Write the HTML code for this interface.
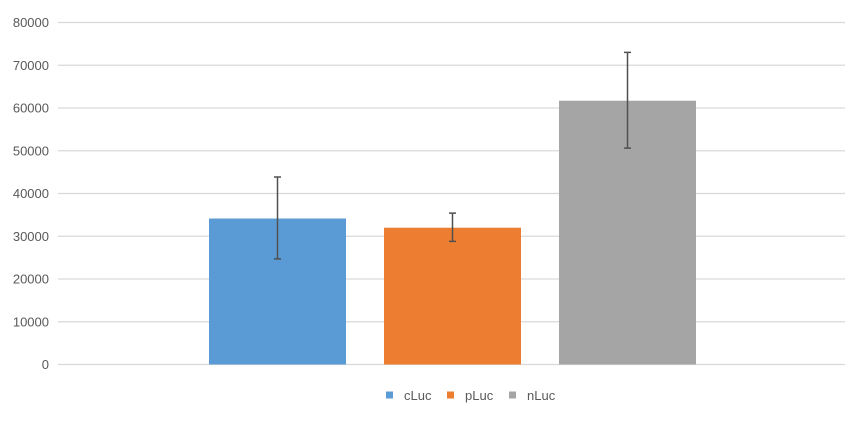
<!DOCTYPE html>
<html><head><meta charset="utf-8"><style>
body{margin:0;background:#fff;width:865px;height:420px;overflow:hidden}
svg{font-family:"Liberation Sans",sans-serif}
</style></head><body>
<svg id="chart" width="865" height="420" xmlns="http://www.w3.org/2000/svg"></svg>
<script>
const categories=["cLuc","pLuc","nLuc"];
const values=[34150,32000,61700];
const errLow=[24700,28800,50600];
const errHigh=[43850,35400,73000];
const ticks=[0,10000,20000,30000,40000,50000,60000,70000,80000];
const colors=["#5b9bd5","#ed7d31","#a5a5a5"];
const svg=document.getElementById('chart');
const NS="http://www.w3.org/2000/svg";
const y0=364.5,yTop=22.5,yMax=80000;
const y=v=>y0-(v/yMax)*(y0-yTop);
const slotW=(845-34)/3, barW=137;
const xc=i=>277.5+i*175;
function mk(t,a){const e=document.createElementNS(NS,t);for(const k in a)e.setAttribute(k,a[k]);svg.appendChild(e);return e;}
ticks.forEach(t=>{
 const g=mk('line',{x1:58,x2:845,y1:y(t),y2:y(t),stroke:'#d9d9d9','stroke-width':1.3});
 
 
 const l=mk('text',{x:49,y:y(t)+4.5,'text-anchor':'end','font-size':13,fill:'#595959'});
 l.textContent=t;
 
 
});
values.forEach((v,i)=>{
 const r=mk('rect',{x:xc(i)-barW/2,y:y(v),width:barW,height:y0-y(v),fill:colors[i]});
 
 
 const e=mk('path',{d:`M${xc(i)},${y(errLow[i])}V${y(errHigh[i])}M${xc(i)-3.5},${y(errLow[i])}h7M${xc(i)-3.5},${y(errHigh[i])}h7`,stroke:'#505050','stroke-width':1.5,fill:'none'});
 
 
});
const lx=[386,447,509];
categories.forEach((c,i)=>{
 const s=mk('rect',{x:lx[i],y:391.5,width:7,height:7,fill:colors[i]});
 
 
 const t=mk('text',{x:lx[i]+18,y:400,'font-size':13,fill:'#595959'});
 t.textContent=c;
 
 
});
</script>
</body></html>
